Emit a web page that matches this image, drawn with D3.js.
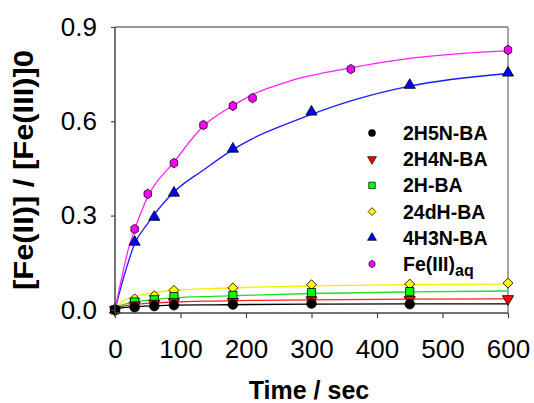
<!DOCTYPE html>
<html>
<head>
<meta charset="utf-8">
<script src="https://cdn.jsdelivr.net/npm/d3@7"></script>
<style>
  body { margin: 0; background: #fff; }
  svg { display: block; font-family: Arial, "Liberation Sans", sans-serif; }
</style>
</head>
<body>
<svg id="chart" width="534" height="403"></svg>
<script>
// measured points
const tLow = [0, 30, 60, 90, 180, 300, 450, 600];
const blackPts = [0, 0.008, 0.012, 0.015, 0.017, 0.020, 0.018];
const redPts = [0, 0.015, 0.020, 0.025, 0.026, 0.031, 0.032, 0.035];
const greenPts = [0, 0.025, 0.032, 0.042, 0.046, 0.055, 0.058];
const yellowPts = [0, 0.035, 0.045, 0.062, 0.070, 0.080, 0.082, 0.085];
const tBlue = [0, 30, 60, 90, 180, 300, 450, 600];
const bluePts = [0, 0.216, 0.295, 0.372, 0.512, 0.630, 0.715, 0.754];
const tMag = [0, 30, 50, 90, 135, 180, 210, 360, 600];
const magPts = [0, 0.257, 0.369, 0.467, 0.588, 0.649, 0.674, 0.766, 0.827];

// fitted curves
const tFitLow = [0, 10, 30, 60, 90, 150, 210, 300, 450, 600];
const blackFit = [0, 0.006, 0.010, 0.013, 0.015, 0.016, 0.017, 0.018, 0.019, 0.019];
const redFit = [0, 0.010, 0.017, 0.022, 0.025, 0.028, 0.030, 0.032, 0.034, 0.035];
const greenFit = [0, 0.015, 0.025, 0.033, 0.038, 0.043, 0.047, 0.052, 0.057, 0.060];
const yellowFit = [0, 0.025, 0.042, 0.055, 0.062, 0.068, 0.072, 0.076, 0.080, 0.082];
const tFitHigh = [0, 10, 20, 30, 50, 90, 135, 180, 210, 270, 360, 450, 600];
const blueFit = [0, 0.08, 0.15, 0.21, 0.275, 0.375, 0.445, 0.51, 0.545, 0.598, 0.665, 0.712, 0.752];
const magFit = [0, 0.10, 0.19, 0.255, 0.36, 0.47, 0.585, 0.65, 0.685, 0.73, 0.77, 0.80, 0.825];

const xTicks = [0, 100, 200, 300, 400, 500, 600];
const yTicks = [0, 0.3, 0.6, 0.9];

const svg = d3.select("#chart");
const plotL = 115, plotR = 508, plotT = 27, plotB = 313;

const x = d3.scaleLinear().domain([0, 600]).range([plotL, plotR]);
const y = d3.scaleLinear().domain([-0.01, 0.9]).range([plotB, plotT]);

// hexagon path (pointy top)
const hexPath = (r) => {
    const p = d3.path();
    for (let i = 0; i < 6; i++) {
        const a = Math.PI / 2 + i * Math.PI / 3;
        const px = Math.cos(a) * r * 0.9, py = -Math.sin(a) * r;
        if (i === 0) p.moveTo(px, py); else p.lineTo(px, py);
    }
    p.closePath();
    return p.toString();
};

const series = [
    { name: "2H5N-BA", t: tLow, v: blackPts, fit: blackFit, ft: tFitLow, color: "#000000", line: "#000000", shape: "circle" },
    { name: "2H4N-BA", t: tLow, v: redPts, fit: redFit, ft: tFitLow, color: "#ff0000", line: "#ff2020", shape: "down" },
    { name: "2H-BA", t: tLow, v: greenPts, fit: greenFit, ft: tFitLow, color: "#00ff00", line: "#20e020", shape: "square" },
    { name: "24dH-BA", t: tLow, v: yellowPts, fit: yellowFit, ft: tFitLow, color: "#ffff00", line: "#f0f000", shape: "diamond" },
    { name: "4H3N-BA", t: tBlue, v: bluePts, fit: blueFit, ft: tFitHigh, color: "#0000ff", line: "#1a1aff", shape: "up" },
    { name: "Fe(III)aq", t: tMag, v: magPts, fit: magFit, ft: tFitHigh, color: "#ff00ff", line: "#ff20ff", shape: "hex" }
];

const markerPath = (shape, s) => {
    if (shape === "circle") return d3.symbol(d3.symbolCircle, s * s * 0.8)();
    if (shape === "square") return d3.symbol(d3.symbolSquare, s * s * 0.75)();
    if (shape === "diamond") return d3.symbol(d3.symbolSquare, s * s * 0.55)();
    if (shape === "up" || shape === "down") return d3.symbol(d3.symbolTriangle, s * s * 0.6)();
    return hexPath(s / 2);
};
const markerRot = (shape) => shape === "diamond" ? 45 : (shape === "down" ? 180 : 0);

// frame lines (top, right)
svg.append("line").attr("x1", plotL).attr("x2", plotR).attr("y1", plotT).attr("y2", plotT)
    .attr("stroke", "#777").attr("stroke-width", 1.5);
svg.append("line").attr("x1", plotR).attr("x2", plotR).attr("y1", plotT).attr("y2", plotB)
    .attr("stroke", "#888").attr("stroke-width", 1.5);

// fit curves
const line = d3.line().x(d => x(d[0])).y(d => y(d[1])).curve(d3.curveMonotoneX);
series.forEach(s => {
    svg.append("path")
        .datum(s.ft.map((t, i) => [t, s.fit[i]]))
        .attr("d", line)
        .attr("fill", "none")
        .attr("stroke", s.line)
        .attr("stroke-width", 1.3);
});

// markers, drawn back to front so that lower series sit on top like the source
[5, 4, 3, 2, 1, 0].forEach(k => {
    const s = series[k];
    svg.append("g")
        .selectAll("path")
        .data(s.v.map((v, i) => [s.t[i], v]))
        .enter()
        .append("path")
        .attr("d", markerPath(s.shape, 9.5))
        .attr("transform", d => `translate(${x(d[0])},${y(d[1])}) rotate(${markerRot(s.shape)})`)
        .attr("fill", s.color)
        .attr("stroke", "#000")
        .attr("stroke-width", 0.8);
});

// axes
const xAxis = svg.append("g")
    .attr("transform", `translate(0,${plotB})`)
    .call(d3.axisBottom(x).tickValues(xTicks).tickSize(5).tickPadding(22).tickSizeOuter(0));
const yAxis = svg.append("g")
    .attr("transform", `translate(${plotL},0)`)
    .call(d3.axisLeft(y).tickValues(yTicks).tickFormat(d3.format(".1f")).tickSize(4).tickPadding(14).tickSizeOuter(0));

[xAxis, yAxis].forEach(a => {
    a.select(".domain").attr("stroke", "#444").attr("stroke-width", 1.5);
    a.selectAll(".tick line").attr("stroke", "#444").attr("stroke-width", 1.2);
    a.selectAll(".tick text").attr("font-size", 26).attr("fill", "#000")
        .attr("font-family", "Arial, 'Liberation Sans', sans-serif");
});
yAxis.select(".domain").attr("d", `M0,${plotT}V${plotB}`);
xAxis.select(".domain").attr("d", `M${plotL},0H${plotR}`);

// axis titles
svg.append("text")
    .attr("x", 309).attr("y", 399)
    .attr("text-anchor", "middle")
    .attr("font-size", 25).attr("font-weight", "bold")
    .text("Time / sec");

svg.append("text")
    .attr("transform", "translate(33,170) rotate(-90)")
    .attr("text-anchor", "middle")
    .attr("font-size", 28).attr("font-weight", "bold")
    .attr("textLength", 240).attr("lengthAdjust", "spacingAndGlyphs")
    .text("[Fe(II)] / [Fe(III)]0");

// legend
const legend = svg.append("g")
    .selectAll("g")
    .data(series).enter()
    .append("g")
    .attr("transform", (d, i) => `translate(372,${133 + i * 26.2})`);

legend.append("path")
    .attr("d", d => markerPath(d.shape, 7.5))
    .attr("transform", d => `rotate(${markerRot(d.shape)})`)
    .attr("fill", d => d.color)
    .attr("stroke", d => d.shape === "circle" ? "none" : "#000")
    .attr("stroke-width", 0.7);

legend.append("text")
    .attr("x", 31).attr("dy", "0.36em")
    .attr("font-size", 19.5).attr("font-weight", "bold")
    .each(function (d) {
        const t = d3.select(this);
        if (d.name === "Fe(III)aq") {
            t.append("tspan").text("Fe(III)");
            t.append("tspan").attr("dy", 5).attr("font-size", 16).text("aq");
        } else {
            t.text(d.name);
        }
    });
</script>
</body>
</html>
